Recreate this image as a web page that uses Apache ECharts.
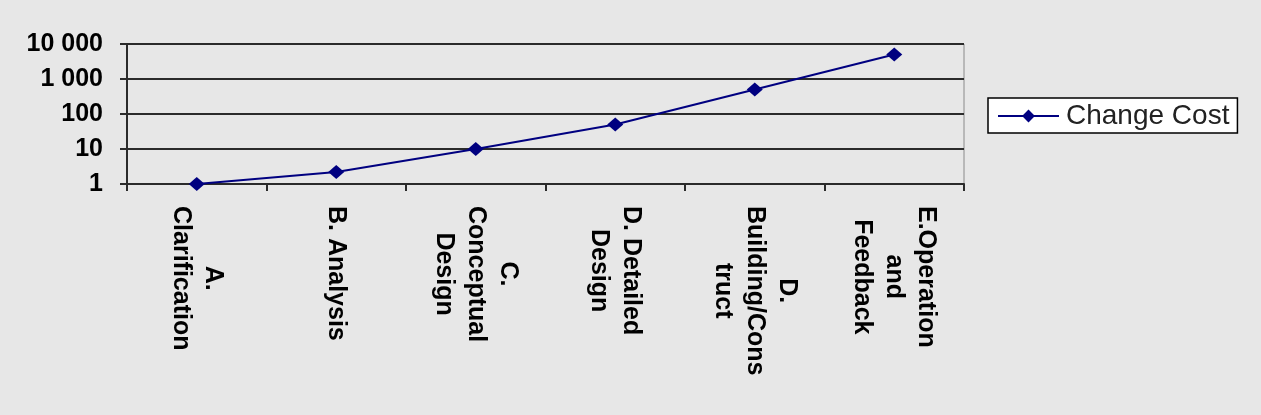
<!DOCTYPE html>
<html>
<head>
<meta charset="utf-8">
<script src="https://cdn.jsdelivr.net/npm/echarts@6/dist/echarts.min.js"></script>
<style>
  html, body { margin: 0; padding: 0; background: #e7e7e7; }
  #main { width: 1261px; height: 415px; }
</style>
</head>
<body>
<div id="main"></div>
<script>
// phases along the x axis (line breaks as in the original labels)
const categories = [
  'A.\nClarification',
  'B. Analysis',
  'C.\nConceptual\nDesign',
  'D. Detailed\nDesign',
  'D.\nBuilding/Cons\ntruct',
  'E.Operation\nand\nFeedback'
]
const changeCost = [1, 2.2, 10, 50, 500, 5000]
const yTicks = [1, 10, 100, 1000, 10000]

const font = "'Liberation Sans', Arial, sans-serif"
const dark = '#2b2b2b'

const chart = echarts.init(document.getElementById('main'))
chart.setOption({
  backgroundColor: '#e7e7e7',
  animation: false,
  textStyle: { fontFamily: font, color: '#000' },
  grid: {
    left: 127,
    right: 297,
    top: 44,
    bottom: 231,
    show: true,
    borderColor: '#8a8a8a',
    borderWidth: 1,
    backgroundColor: 'transparent'
  },
  legend: {
    data: ['Change Cost'],
    left: 988,
    top: 98,
    orient: 'vertical',
    backgroundColor: '#fff',
    borderColor: '#000',
    borderWidth: 1.5,
    padding: [4, 8, 3, 9],
    itemWidth: 61,
    itemHeight: 16,
    itemGap: 0,
    textStyle: { fontFamily: font, fontSize: 28, color: '#222', padding: [0, 0, 0, 2] }
  },
  xAxis: {
    type: 'category',
    data: categories,
    axisLine: { lineStyle: { color: dark, width: 2 } },
    axisTick: { show: true, length: 7, lineStyle: { color: dark, width: 2 } },
    axisLabel: {
      rotate: -90,
      margin: 22,
      interval: 0,
      fontFamily: font,
      fontSize: 25,
      fontWeight: 'bold',
      lineHeight: 32,
      color: '#000',
      formatter: function (v) {
        return v.split('\n').map(function (s) { return '{c|' + s + '}' }).join('\n')
      },
      rich: {
        c: {
          align: 'center',
          fontFamily: font,
          fontSize: 25,
          fontWeight: 'bold',
          lineHeight: 32,
          color: '#000'
        }
      }
    }
  },
  yAxis: {
    type: 'log',
    logBase: 10,
    min: yTicks[0],
    max: yTicks[yTicks.length - 1],
    axisLine: { show: true, lineStyle: { color: dark, width: 2 } },
    axisTick: { show: true, length: 7, lineStyle: { color: dark, width: 2 } },
    splitLine: { show: true, lineStyle: { color: dark, width: 2 } },
    axisLabel: {
      margin: 24,
      fontFamily: font,
      fontSize: 25,
      fontWeight: 'bold',
      color: '#000',
      formatter: function (v) {
        return String(Math.round(v)).replace(/\B(?=(\d{3})+(?!\d))/g, ' ')
      }
    }
  },
  series: [
    {
      name: 'Change Cost',
      type: 'line',
      data: changeCost,
      symbol: 'diamond',
      symbolSize: [16, 14],
      itemStyle: { color: '#000080' },
      lineStyle: { color: '#000080', width: 2 }
    }
  ]
})
</script>
</body>
</html>
